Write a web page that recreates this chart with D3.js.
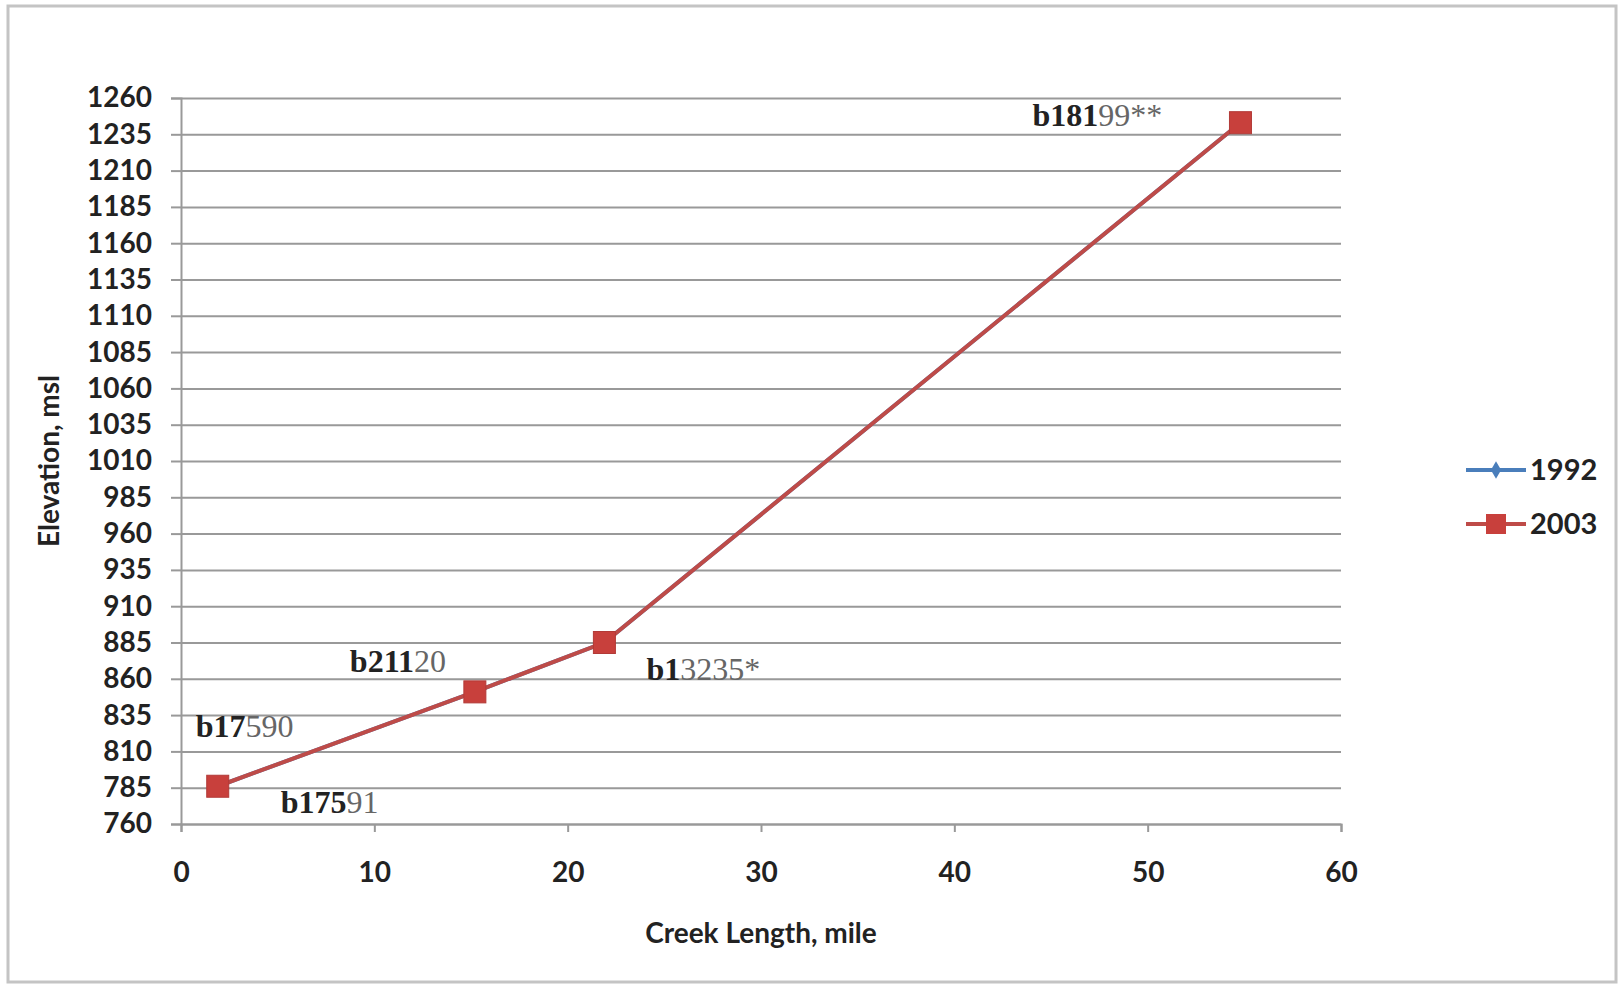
<!DOCTYPE html>
<html>
<head>
<meta charset="utf-8">
<script src="https://cdn.jsdelivr.net/npm/d3@7"></script>
<style>
  body { margin: 0; background: #fff; }
  .tick text { font-family: Lato, "Open Sans", sans-serif; font-weight: bold; fill: #222; }
  .grid line { stroke: #999; stroke-width: 2; }
  .lbl { font-family: "Liberation Serif", serif; }
</style>
</head>
<body>
<svg id="chart" width="1621" height="987"></svg>
<script>
// Creek profile data
var creekLength = [1.9, 15.2, 21.9, 54.8];
var elev1992 = [786, 851, 885, 1243];
var elev2003 = [786, 851, 885, 1243];
var pointLabels = ["b17590", "b21120", "b13235*", "b18199**"];
var extraLabel = "b17591";
var xTicks = [0, 10, 20, 30, 40, 50, 60];
var yTicks = [760, 785, 810, 835, 860, 885, 910, 935, 960, 985, 1010, 1035, 1060, 1085, 1110, 1135, 1160, 1185, 1210, 1235, 1260];
var seriesNames = ["1992", "2003"];

(function profileChart() {
    var svg = d3.select("#chart");

    // outer frame
    svg.append("rect")
        .attr("x", 8).attr("y", 6)
        .attr("width", 1608).attr("height", 976)
        .attr("fill", "none")
        .attr("stroke", "#c4c4c4")
        .attr("stroke-width", 3);

    var left = 181, right = 1341, plotTop = 98, bottom = 824;

    var x = d3.scaleLinear().domain([0, 60]).range([left, right]);
    var y = d3.scaleLinear().domain([760, 1260]).range([bottom, plotTop]);

    // horizontal gridlines
    svg.append("g")
        .attr("class", "grid")
        .attr("transform", "translate(" + left + ",0)")
        .call(d3.axisLeft(y).tickValues(yTicks).tickSize(-(right - left)).tickFormat(""))
        .call(function (g) { g.select(".domain").remove(); });

    // y axis
    var yAxis = svg.append("g")
        .attr("transform", "translate(" + left + ",0)")
        .call(d3.axisLeft(y).tickValues(yTicks).tickSize(10).tickPadding(19).tickFormat(d3.format("d")));
    yAxis.selectAll("text").style("font-size", "28px");
    yAxis.selectAll("line").attr("stroke", "#999").attr("stroke-width", 2);
    yAxis.select(".domain").attr("stroke", "#999").attr("stroke-width", 2);

    // x axis
    var xAxis = svg.append("g")
        .attr("transform", "translate(0," + bottom + ")")
        .call(d3.axisBottom(x).tickValues(xTicks).tickSize(8).tickPadding(30).tickFormat(d3.format("d")));
    xAxis.selectAll("text").style("font-size", "28px");
    xAxis.selectAll("line").attr("stroke", "#999").attr("stroke-width", 2);
    xAxis.select(".domain").attr("stroke", "#999").attr("stroke-width", 2);

    // axis titles
    svg.append("text")
        .attr("x", (left + right) / 2)
        .attr("y", 943)
        .attr("text-anchor", "middle")
        .style("font-family", "Lato, sans-serif")
        .style("font-weight", "bold")
        .style("font-size", "28px")
        .attr("fill", "#222")
        .text("Creek Length, mile");

    svg.append("text")
        .attr("transform", "translate(59," + (plotTop + bottom) / 2 + ") rotate(-90)")
        .attr("text-anchor", "middle")
        .style("font-family", "Lato, sans-serif")
        .style("font-weight", "bold")
        .style("font-size", "28px")
        .attr("fill", "#222")
        .text("Elevation, msl");

    var line = d3.line()
        .x(function (d, i) { return x(creekLength[i]); })
        .y(function (d) { return y(d); });

    // 1992 (sits underneath 2003)
    svg.append("path")
        .datum(elev1992)
        .attr("d", line)
        .attr("fill", "none")
        .attr("stroke", "#4a7ebb")
        .attr("stroke-width", 4);

    svg.selectAll(".m92")
        .data(elev1992)
        .enter().append("path")
        .attr("class", "m92")
        .attr("transform", function (d, i) { return "translate(" + x(creekLength[i]) + "," + y(d) + ")"; })
        .attr("d", d3.symbol().type(d3.symbolDiamond).size(90))
        .attr("fill", "#4a7ebb");

    // 2003
    svg.append("path")
        .datum(elev2003)
        .attr("d", line)
        .attr("fill", "none")
        .attr("stroke", "#be4b48")
        .attr("stroke-width", 4);

    svg.selectAll(".m03")
        .data(elev2003)
        .enter().append("rect")
        .attr("class", "m03")
        .attr("x", function (d, i) { return x(creekLength[i]) - 11; })
        .attr("y", function (d) { return y(d) - 11; })
        .attr("width", 22)
        .attr("height", 22)
        .attr("fill", "#c8403c")
        .attr("stroke", "#b23a37")
        .attr("stroke-width", 1);

    // data labels: bold prefix, lighter rest
    var boldChars = [3, 4, 2, 4];
    var labelOffsets = [[-22, -59], [-125, -30], [42, 27], [-208, -7]];

    function addLabel(txt, nb, px, py) {
        var t = svg.append("text")
            .attr("class", "lbl")
            .attr("x", px)
            .attr("y", py)
            .style("font-size", "32px");
        t.append("tspan").style("font-weight", "bold").attr("fill", "#222").text(txt.slice(0, nb));
        t.append("tspan").attr("fill", "#666").text(txt.slice(nb));
    }

    pointLabels.forEach(function (lab, i) {
        addLabel(lab, boldChars[i], x(creekLength[i]) + labelOffsets[i][0], y(elev2003[i]) + labelOffsets[i][1] + 10);
    });
    addLabel(extraLabel, 4, x(creekLength[0]) + 63, y(elev2003[0]) + 27);

    // legend
    var legend = svg.append("g").attr("transform", "translate(1466,470)");
    seriesNames.forEach(function (name, i) {
        var g = legend.append("g").attr("transform", "translate(0," + i * 54 + ")");
        var col = i === 0 ? "#4a7ebb" : "#be4b48";
        g.append("line").attr("x1", 0).attr("x2", 60).attr("stroke", col).attr("stroke-width", 4);
        if (i === 0) {
            g.append("path").attr("transform", "translate(30,0)")
                .attr("d", d3.symbol().type(d3.symbolDiamond).size(90)).attr("fill", col);
        } else {
            g.append("rect").attr("x", 20).attr("y", -10).attr("width", 20).attr("height", 20).attr("fill", "#c8403c");
        }
        g.append("text")
            .attr("x", 64)
            .attr("y", 10)
            .style("font-family", "Lato, sans-serif")
            .style("font-weight", "bold")
            .style("font-size", "29px")
            .attr("fill", "#222")
            .text(name);
    });
}());
</script>
</body>
</html>
